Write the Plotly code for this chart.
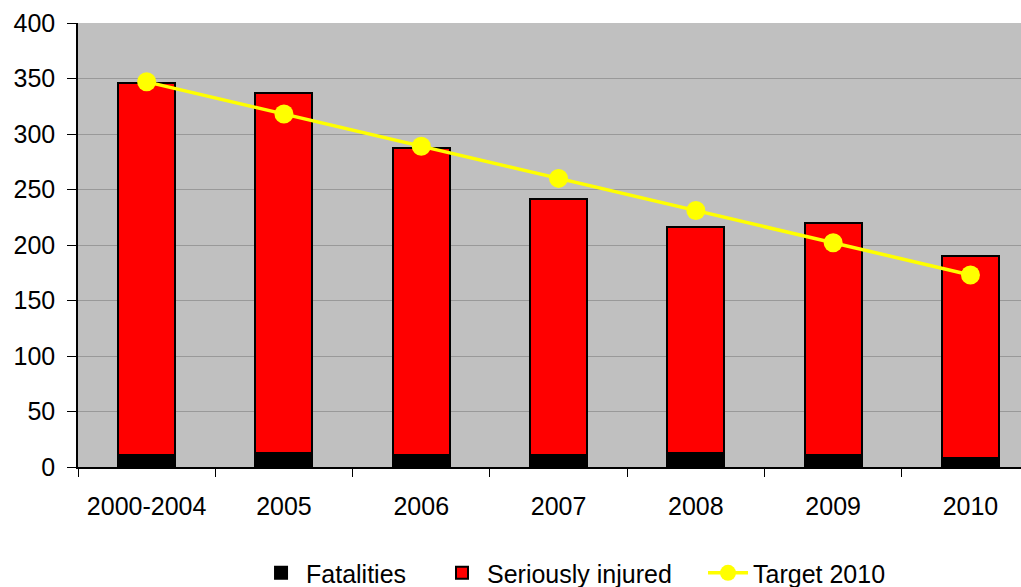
import plotly.graph_objects as go

categories = ['2000-2004', '2005', '2006', '2007', '2008', '2009', '2010']
fatalities = [11, 13, 11, 11, 13, 11, 8]
seriously_injured = [335, 324, 276, 230, 203, 209, 182]
target_2010 = [347, 318, 289, 260, 231, 202, 173]

fig = go.Figure()

fig.add_trace(go.Bar(
    x=categories, y=fatalities,
    name='Fatalities', legend='legend',
    marker=dict(color='black', line=dict(color='black', width=2))
))

fig.add_trace(go.Bar(
    x=categories, y=seriously_injured,
    name='Seriously injured', legend='legend2',
    marker=dict(color='#ff0000', line=dict(color='black', width=2))
))

fig.add_trace(go.Scatter(
    x=categories, y=target_2010,
    mode='lines+markers',
    name='Target 2010', legend='legend3',
    line=dict(color='#ffff00', width=3.5),
    marker=dict(color='#ffff00', size=19)
))

# une légende par série pour caler chaque entrée comme dans l'original
leg = dict(orientation='h', y=-0.239, yanchor='middle', xanchor='left',
           font=dict(size=25), itemwidth=40, itemclick=False, bgcolor='rgba(0,0,0,0)')

fig.update_layout(
    barmode='stack',
    bargap=0.585,
    width=1021, height=587,
    margin=dict(l=78, r=0, t=23, b=120, autoexpand=False),
    paper_bgcolor='white',
    plot_bgcolor='#c0c0c0',
    font=dict(family='Liberation Sans, Arial, sans-serif', size=25, color='black'),
    showlegend=True,
    legend=dict(leg, x=0.1888),
    legend2=dict(leg, x=0.3807),
    legend3=dict(leg, x=0.6628),
)

# le graphique d'origine est coupé à droite : la zone de tracé dépasse le cadre
fig.update_xaxes(
    range=[-0.5, 6.368],
    showline=True, linecolor='black', linewidth=1.5,
    ticks='outside', tickson='boundaries', ticklen=8, tickcolor='black',
    ticklabelstandoff=16, showgrid=False, automargin=False
)

fig.update_yaxes(
    range=[0, 400], dtick=50,
    showline=True, linecolor='black', linewidth=1.5,
    ticks='outside', ticklen=9, tickcolor='black', ticklabelstandoff=7,
    showgrid=True, gridcolor='#999999', gridwidth=1, zeroline=False,
    automargin=False
)

# pas de marge du body pour que la figure remplisse la fenêtre
fig.write_html("out.html", config={'displayModeBar': False},
               post_script="document.body.style.margin='0';")
